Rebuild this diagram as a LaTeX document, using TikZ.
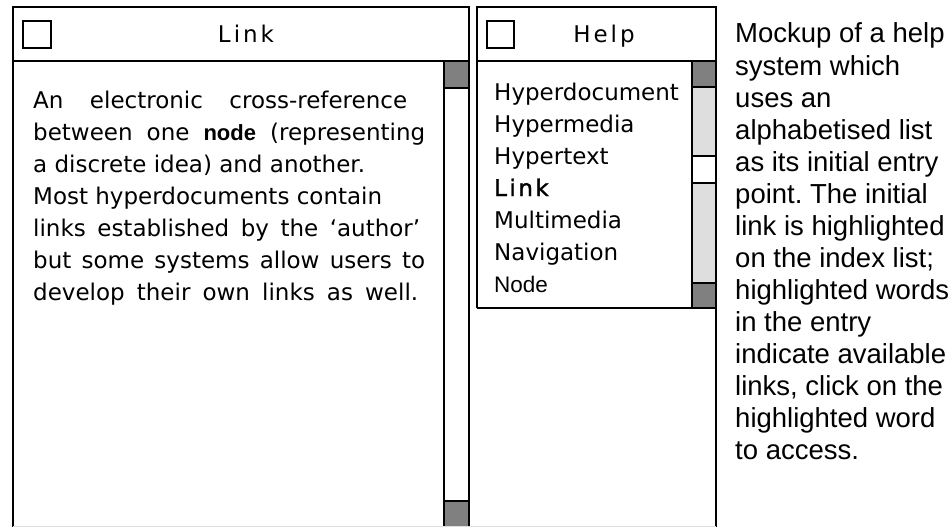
\documentclass[tikz,border=0pt]{standalone}
\usepackage{fontspec}
\newfontfamily\gen{DejaVu Sans}
\newfontfamily\genbold[FakeBold=1.5]{DejaVu Sans}
\newfontfamily\helv{Liberation Sans}
\newfontfamily\helvbold{Liberation Sans Bold}
\definecolor{thumb}{HTML}{808080}
\definecolor{track}{HTML}{DEDEDE}
\newcommand\gtext{\gen\fontsize{23}{32}\selectfont}
\newcommand\ltr{\kern3pt}
\frenchspacing
\begin{document}
\begin{tikzpicture}[x=1pt,y=-1pt,
  frame/.style={draw=black,line width=2.2pt},
  thumbbox/.style={frame,fill=thumb},
  trackbox/.style={frame,fill=track},
  plainbox/.style={frame,fill=white},
  body/.style={anchor=base west,inner sep=0pt,font=\gtext},
  note/.style={anchor=base west,inner sep=0pt,font=\helv\fontsize{27.5}{32}\selectfont},
  title/.style={anchor=base,inner sep=0pt,font=\gtext}]
\useasboundingbox (0,0) rectangle (950,527);

% ---- left window: "Link" entry
\draw[frame] (13,7) rectangle (469,560);
\draw[frame] (13,61) -- (469,61);
\draw[frame] (23,21) rectangle (51,48);
\node[title] (linktitle) at (246,43) {L\ltr i\ltr n\ltr k};
\draw[plainbox] (444,61) rectangle (469,560);
\draw[thumbbox] (444,61) rectangle (469,88);
\draw[thumbbox] (444,501) rectangle (469,560);

\node[body] (l1) at (33,108) {\makebox[374pt][s]{An electronic cross-reference}};
\node[body] (l2) at (33,140) {\makebox[392pt][s]{between one {\helvbold\fontsize{22}{32}\selectfont node} (representing}};
\node[body] (l3) at (33,172) {a discrete idea) and another.};
\node[body] (l4) at (33,204) {Most hyperdocuments contain};
\node[body] (l5) at (33,236) {\makebox[387pt][s]{links established by the ‘author’}};
\node[body] (l6) at (33,268) {\makebox[392pt][s]{but some systems allow users to}};
\node[body] (l7) at (33,300) {\makebox[385pt][s]{develop their own links as well.}};

% ---- right window: "Help" index
\draw[frame] (477,308) -- (477,7) -- (716,7) -- (716,560);
\draw[frame] (477,61) -- (716,61);
\draw[frame] (477,308) -- (716,308);
\draw[frame] (487,21) rectangle (514,48);
\node[title] (helptitle) at (604,43) {H\ltr e\ltr l\ltr p};
\draw[trackbox] (692,61) rectangle (716,308);
\draw[thumbbox] (692,61) rectangle (716,87);
\draw[plainbox] (692,156) rectangle (716,183);
\draw[thumbbox] (692,283) rectangle (716,308);

\node[body] (i1) at (494,100) {Hyperdocument};
\node[body] (i2) at (494,132) {Hypermedia};
\node[body] (i3) at (494,164) {Hypertext};
\node[body,font=\genbold\fontsize{23}{32}\selectfont] (i4) at (494,196) {L\kern2.5pt i\kern2.5pt n\kern2.5pt k};
\node[body] (i5) at (494,228) {Multimedia};
\node[body] (i6) at (494,260) {Navigation};
\node[body,font=\helv\fontsize{22.5}{32}\selectfont] (i7) at (494,292) {Node};

\draw[track,line width=1pt] (13,526.5) -- (716,526.5);

% ---- caption
\foreach \t [count=\k from 0] in {Mockup of a help,system which,uses an,alphabetised list,as its initial entry,point. The initial,link is highlighted,on the index list;,highlighted words,in the entry,indicate available,{links, click on the},highlighted word,to access.}
  \node[note] (c\k) at (735,43+32*\k) {\t};
\end{tikzpicture}
\end{document}
